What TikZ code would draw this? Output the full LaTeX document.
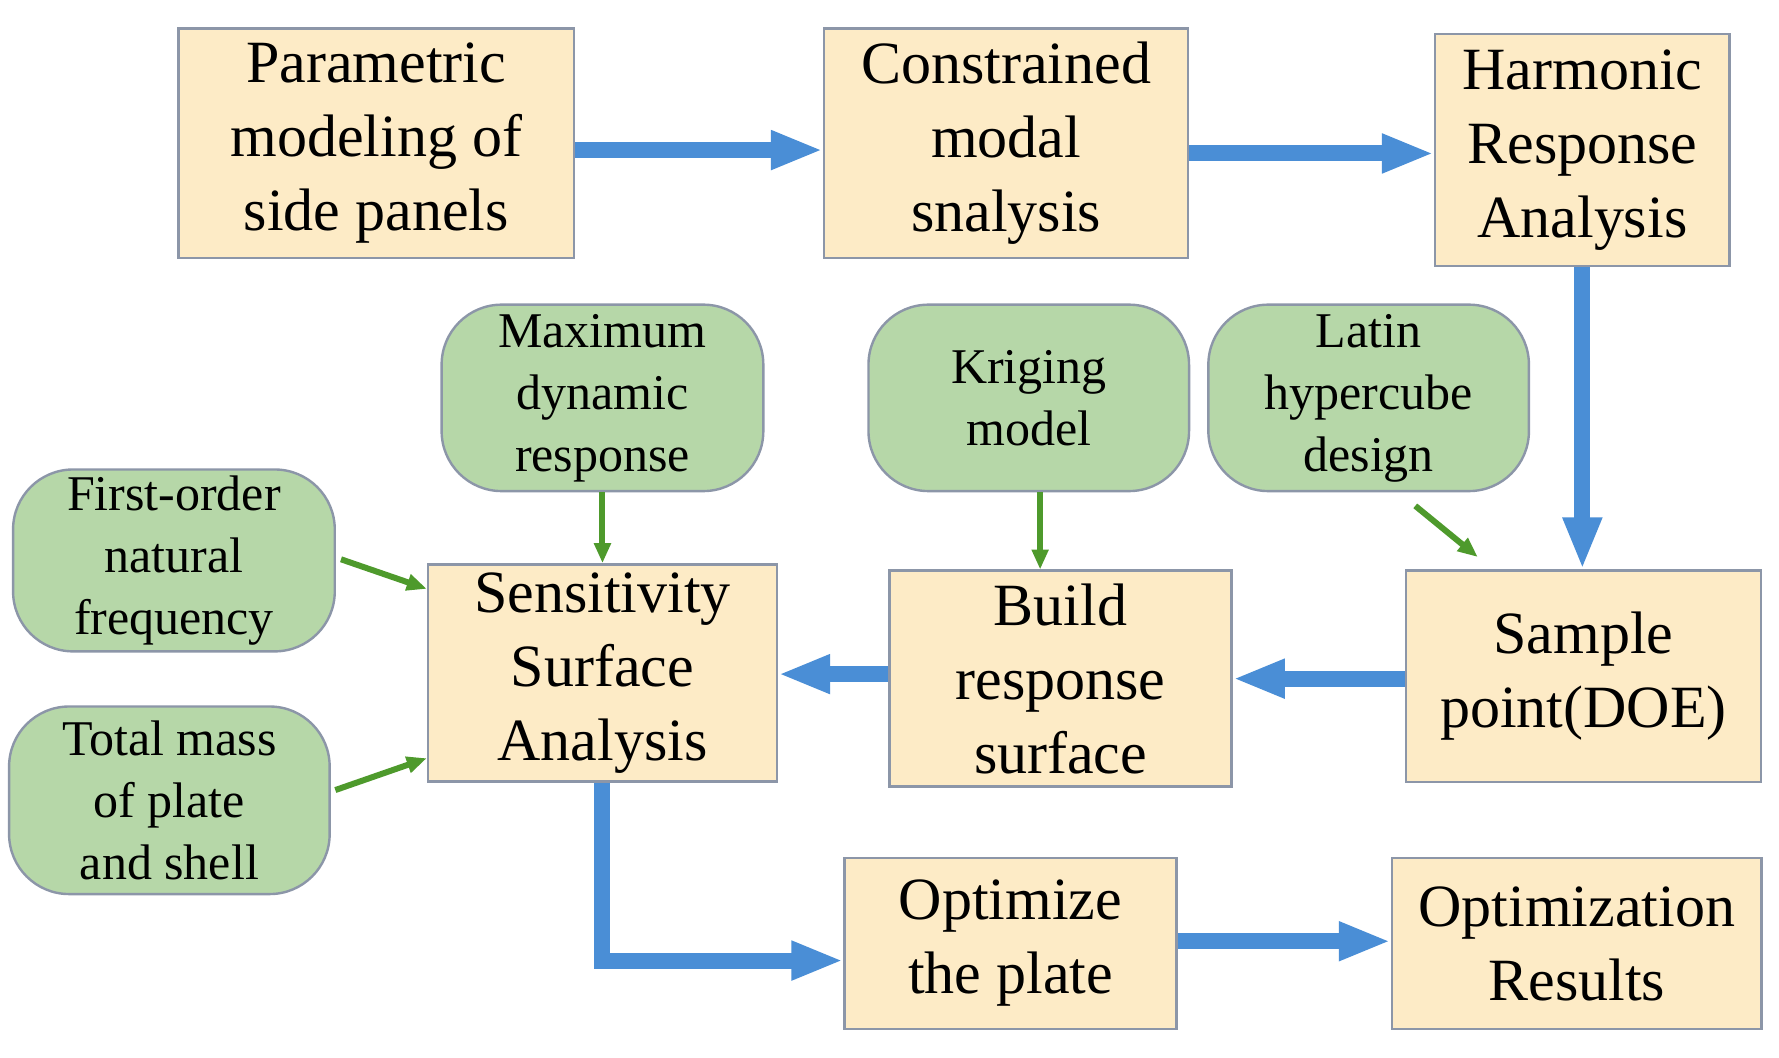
\documentclass[tikz,border=0pt]{standalone}
\usepackage{fontspec}
\setmainfont{Liberation Serif}
\usetikzlibrary{arrows.meta}
\definecolor{boxf}{HTML}{FDEBC6}
\definecolor{boxd}{HTML}{8C96A8}
\definecolor{grf}{HTML}{B6D7A8}
\definecolor{blu}{HTML}{4A8ED6}
\definecolor{gra}{HTML}{4E9A2C}
\begin{document}
\begin{tikzpicture}[x=0.5685pt,y=-0.5685pt,
 box/.style={draw=boxd,line width=1.2pt,fill=boxf,align=center,inner sep=0pt,font=\fontsize{30}{37}\selectfont},
 rbox/.style={draw=boxd,line width=1.2pt,fill=grf,align=center,inner sep=0pt,rounded corners=30pt,font=\fontsize{25}{31}\selectfont},
 barr/.style={draw=blu,line width=8pt,-{Triangle[length=26pt,width=18pt]}},
 garr/.style={draw=gra,line width=3pt,-{Triangle[length=10pt,width=8pt]}}]
\useasboundingbox[fill=white] (0,0) rectangle (1565,930.6);
\node[box,minimum width=348*0.5685pt,minimum height=202*0.5685pt] (p) at (331,126) {Parametric\\modeling of\\side panels};
\node[box,minimum width=320*0.5685pt,minimum height=202*0.5685pt] (c) at (885,126) {Constrained\\modal\\snalysis};
\node[box,minimum width=259*0.5685pt,minimum height=204*0.5685pt] (h) at (1392,132) {Harmonic\\Response\\Analysis};
\node[rbox,minimum width=283*0.5685pt,minimum height=164*0.5685pt] (m) at (530,350) {Maximum\\dynamic\\response};
\node[rbox,minimum width=282*0.5685pt,minimum height=164*0.5685pt] (k) at (905,350) {Kriging\\model};
\node[rbox,minimum width=282*0.5685pt,minimum height=164*0.5685pt] (l) at (1204,350) {Latin\\hypercube\\design};
\node[rbox,minimum width=283*0.5685pt,minimum height=160*0.5685pt] (f) at (153,493) {First-order\\natural\\frequency};
\node[rbox,minimum width=282*0.5685pt,minimum height=165*0.5685pt] (t) at (149,704) {Total mass\\of plate\\and shell};
\node[box,minimum width=307*0.5685pt,minimum height=191*0.5685pt] (s) at (530,592) {Sensitivity\\Surface\\Analysis};
\node[box,minimum width=301*0.5685pt,minimum height=190*0.5685pt] (b) at (933,597) {Build\\response\\surface};
\node[box,minimum width=312*0.5685pt,minimum height=186*0.5685pt] (sp) at (1393,595) {Sample\\point(DOE)};
\node[box,minimum width=292*0.5685pt,minimum height=150*0.5685pt] (o) at (889,830) {Optimize\\the plate};
\node[box,minimum width=325*0.5685pt,minimum height=150*0.5685pt] (r) at (1387,830) {Optimization\\Results};
\draw[barr] (p.east|-0,132) -- (c.west|-0,132);
\draw[barr] (c.east|-0,135) -- (h.west|-0,135);
\draw[barr] (h.south) -- (sp.north-|h.south);
\draw[barr] (sp.west|-0,597) -- (b.east|-0,597);
\draw[barr] (b.west|-0,593) -- (s.east|-0,593);
\draw[barr] (s.south) |- (o.west|-0,845);
\draw[barr] (o.east|-0,828) -- (r.west|-0,828);
\draw[garr] (m.south) -- (s.north-|m.south);
\draw[garr] (k.south-|915,0) -- (915,501);
\coordinate (l1) at (1245,445); \coordinate (l2) at (1300,490);
\draw[garr] (l1) -- (l2);
\coordinate (f1) at (300,492); \coordinate (t1) at (295,695);
\draw[garr] (f1) -- (s.west|-0,518);
\draw[garr] (t1) -- (s.west|-0,667);
\end{tikzpicture}
\end{document}
